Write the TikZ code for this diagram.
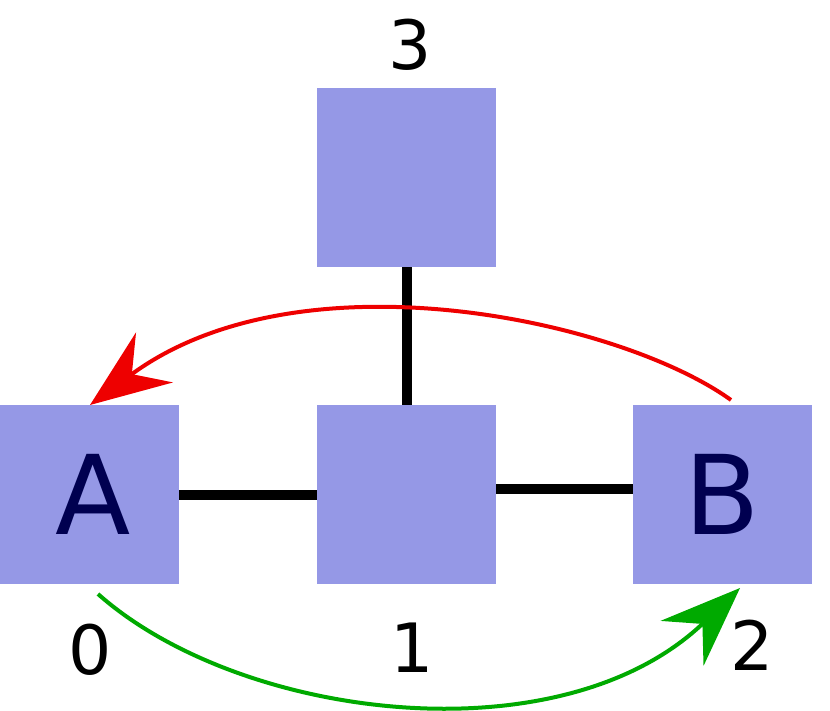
\documentclass[tikz,border=0pt]{standalone}
\usepackage{fontspec}
\setmainfont{DejaVu Sans}
\usetikzlibrary{arrows.meta}
\definecolor{boxc}{HTML}{9598E6}
\definecolor{navy}{HTML}{000050}
\definecolor{redc}{HTML}{EE0000}
\definecolor{greenc}{HTML}{00AA00}
\begin{document}
\begin{tikzpicture}[x=1pt,y=-1pt,
  sq/.style={fill=boxc,minimum size=179pt,inner sep=0pt,text=navy,font=\fontsize{110}{110}\selectfont},
  lab/.style={font=\fontsize{68}{68}\selectfont},
  link/.style={line width=10pt},
  arr/.style={line width=4pt,-{Stealth[length=80pt,width=62pt,inset=28pt]}}]
\useasboundingbox (0,0) rectangle (830,711);
\node[sq] (a) at (89.5,494.5) {\hspace*{8pt}A};
\node[sq] (m) at (406.5,494.5) {};
\node[sq] (b) at (722.5,494.5) {B};
\node[sq] (t) at (406.5,177.5) {};
\node[lab] (l3) at (410,45) {3};
\node[lab] (l0) at (90,650) {0};
\node[lab] (l1) at (412,648) {1};
\node[lab] (l2) at (752,645) {2};
\draw[link] (a.east |- 0,495) -- (m.west |- 0,495);
\draw[link] (m.east |- 0,489) -- (b.west |- 0,489);
\draw[link] (m.north) -- (t.south);
\coordinate (rs) at (731,400);
\coordinate (re) at (90,405);
\coordinate (gs) at (98,594);
\coordinate (ge) at (740,588);
\draw[arr,redc] (rs) .. controls (620,320) and (300,250) .. (re);
\draw[arr,greenc] (gs) .. controls (240,720) and (560,760) .. (ge);
\end{tikzpicture}
\end{document}
